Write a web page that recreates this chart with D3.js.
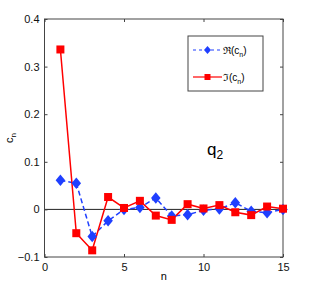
<!DOCTYPE html>
<html>
<head>
<meta charset="utf-8">
<script src="https://cdn.jsdelivr.net/npm/d3@7"></script>
<style>
  body { margin: 0; background: #fff; }
  text { font-family: "Liberation Sans", Arial, sans-serif; }
</style>
</head>
<body>
<div id="chart"></div>
<script>
// coefficients c_n, n = 1..15
const nValues = d3.range(1, 16)
const realPart = [0.061, 0.055, -0.057, -0.024, 0.0, 0.004, 0.024, -0.014, -0.011, -0.002, 0.001, 0.014, -0.004, -0.007, 0.0]
const imagPart = [0.336, -0.050, -0.086, 0.026, 0.003, 0.018, -0.013, -0.022, 0.011, 0.002, 0.009, -0.006, -0.012, 0.006, 0.0015]
const xTicks = [0, 5, 10, 15]
const yTicks = [-0.1, 0, 0.1, 0.2, 0.3, 0.4]

const width = 314, height = 286
const margin = {top: 19, right: 31, bottom: 29, left: 44.5}

const svg = d3.select("#chart").append("svg")
    .attr("width", width)
    .attr("height", height)

const x = d3.scaleLinear().domain([0, 15]).range([margin.left, width - margin.right])
const y = d3.scaleLinear().domain([-0.1, 0.4]).range([height - margin.bottom, margin.top])

const axisColor = "#444"

// zero line
svg.append("line")
    .attr("x1", x(0)).attr("x2", x(15))
    .attr("y1", y(0)).attr("y2", y(0))
    .attr("stroke", "#222").attr("stroke-width", 1)

function styleAxis(g, noText) {
    g.select(".domain").remove()
    g.selectAll("line").attr("stroke", axisColor)
    g.selectAll("text").attr("font-size", 11).attr("fill", "#111")
    if (noText) g.selectAll("text").remove()
}

const fmtY = d => d === 0 ? "0" : d3.format(".1f")(d).replace("-", "\u2212")

svg.append("g")
    .attr("transform", `translate(0,${y(-0.1)})`)
    .call(d3.axisBottom(x).tickValues(xTicks).tickSize(-3).tickPadding(6))
    .call(g => styleAxis(g))
svg.append("g")
    .attr("transform", `translate(0,${y(0.4)})`)
    .call(d3.axisTop(x).tickValues(xTicks).tickSize(-3))
    .call(g => styleAxis(g, true))
svg.append("g")
    .attr("transform", `translate(${x(0)},0)`)
    .call(d3.axisLeft(y).tickValues(yTicks).tickSize(-3).tickPadding(5).tickFormat(fmtY))
    .call(g => styleAxis(g))
svg.append("g")
    .attr("transform", `translate(${x(15)},0)`)
    .call(d3.axisRight(y).tickValues(yTicks).tickSize(-3))
    .call(g => styleAxis(g, true))

// frame
svg.append("rect")
    .attr("x", x(0)).attr("y", y(0.4))
    .attr("width", x(15) - x(0)).attr("height", y(-0.1) - y(0.4))
    .attr("fill", "none").attr("stroke", axisColor).attr("stroke-width", 1)

const blue = "#1f3fff", red = "#ff0000"

const line = d3.line().x((d, i) => x(nValues[i])).y(d => y(d))

svg.append("path").datum(realPart)
    .attr("d", line).attr("fill", "none")
    .attr("stroke", blue).attr("stroke-width", 1.5).attr("stroke-dasharray", "5,3")
svg.append("path").datum(imagPart)
    .attr("d", line).attr("fill", "none")
    .attr("stroke", red).attr("stroke-width", 1.5)

// tall diamond marker
const diamondPath = (w, h) => `M0,${-h / 2}L${w / 2},0L0,${h / 2}L${-w / 2},0Z`

svg.selectAll(".re").data(realPart).enter().append("path")
    .attr("transform", (d, i) => `translate(${x(nValues[i])},${y(d)})`)
    .attr("d", diamondPath(9.5, 11.5)).attr("fill", blue)

svg.selectAll(".im").data(imagPart).enter().append("rect")
    .attr("x", (d, i) => x(nValues[i]) - 4)
    .attr("y", d => y(d) - 4)
    .attr("width", 8).attr("height", 8)
    .attr("fill", red)

// axis labels
svg.append("text")
    .attr("x", x(7.5)).attr("y", 280)
    .attr("text-anchor", "middle").attr("font-size", 11)
    .text("n")
const yl = svg.append("text")
    .attr("transform", `translate(13,${y(0.15)}) rotate(-90)`)
    .attr("text-anchor", "middle").attr("font-size", 11)
yl.append("tspan").text("c")
yl.append("tspan").attr("dy", 3).attr("font-size", 8).text("n")

// q2 label
const q = svg.append("text").attr("x", 207).attr("y", 155).attr("font-size", 17)
q.append("tspan").text("q")
q.append("tspan").attr("dy", 4).attr("font-size", 12).text("2")

// legend
const lg = svg.append("g")
lg.append("rect")
    .attr("x", 188).attr("y", 36).attr("width", 75).attr("height", 55)
    .attr("fill", "#fff").attr("stroke", axisColor)
const items = [
    {label: "\u211C", color: blue, dash: "3,3", mark: "d"},
    {label: "\u2111", color: red, dash: null, mark: "s"}
]
items.forEach((it, i) => {
    const cy = 50 + i * 27
    lg.append("line").attr("x1", 193).attr("x2", 222).attr("y1", cy).attr("y2", cy)
        .attr("stroke", it.color).attr("stroke-width", 1.2)
        .attr("stroke-dasharray", it.dash)
    if (it.mark === "d") {
        lg.append("path").attr("transform", `translate(207.5,${cy})`)
            .attr("d", diamondPath(7, 8)).attr("fill", it.color)
    } else {
        lg.append("rect").attr("x", 204.5).attr("y", cy - 3).attr("width", 6).attr("height", 6)
            .attr("fill", it.color)
    }
    const t = lg.append("text").attr("x", 223).attr("y", cy + 4).attr("font-size", 10)
    t.append("tspan").text(it.label + "(c")
    t.append("tspan").attr("dy", 3).attr("font-size", 7).text("n")
    t.append("tspan").attr("dy", -3).text(")")
})
</script>
</body>
</html>
